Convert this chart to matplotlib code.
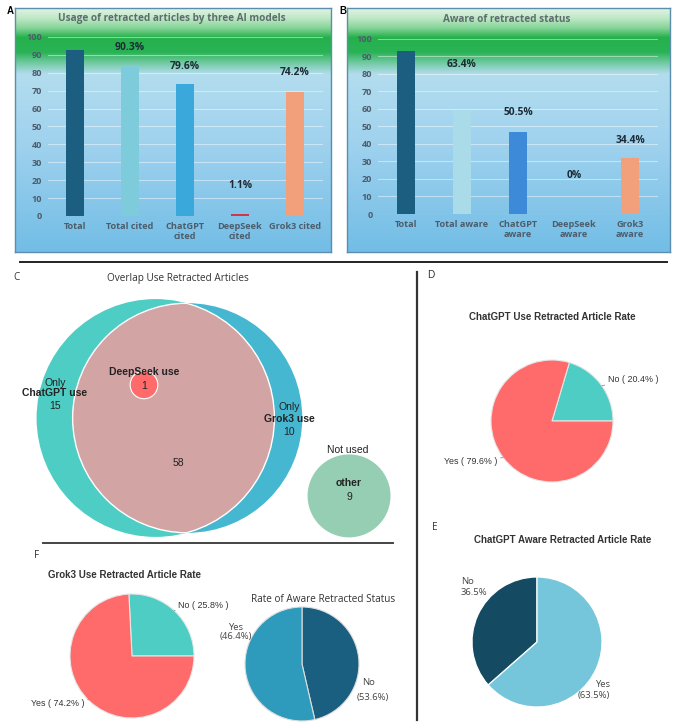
import numpy as np
import matplotlib
matplotlib.use('Agg')
import matplotlib.pyplot as plt
from matplotlib.patches import Circle
from matplotlib.lines import Line2D
from matplotlib.colors import to_rgb

# ---- data ----
a_categories = ['Total', 'Total cited', 'ChatGPT\ncited', 'DeepSeek\ncited', 'Grok3 cited']
a_counts = [93, 84, 74, 1, 69]
a_pct = ['', '90.3%', '79.6%', '1.1%', '74.2%']
a_title = 'Usage of retracted articles by three AI models'

b_categories = ['Total', 'Total aware', 'ChatGPT\naware', 'DeepSeek\naware', 'Grok3\naware']
b_counts = [93, 59, 47, 0, 32]
b_pct = ['', '63.4%', '50.5%', '0%', '34.4%']
b_title = 'Aware of retracted status'

only_chatgpt = 15
only_grok = 10
both_used = 58
deepseek_used = 1
not_used = 9

d_values = [20.4, 79.6]   # No, Yes
e_values = [36.5, 63.5]   # No, Yes
f_values = [25.8, 74.2]   # No, Yes
aware_values = [53.6, 46.4]   # No, Yes (as labelled)
aware_slices = [46.4, 53.6]   # dark / light wedge sizes as drawn in the source

W, H = 678, 727
fig = plt.figure(figsize=(W / 100, H / 100), dpi=100)
fig.patch.set_facecolor('white')

SEGOE = ['Open Sans', 'DejaVu Sans']
ARIAL = ['Liberation Sans', 'DejaVu Sans']


def fx(x):
    return x / W


def fy(y):
    return 1 - y / H


def px_axes(x0, y0, x1, y1, **kw):
    return fig.add_axes([x0 / W, 1 - y1 / H, (x1 - x0) / W, (y1 - y0) / H], **kw)


def ftext(x, y, s, **kw):
    return fig.text(fx(x), fy(y), s, **kw)


def gradient_box(x0, y0, x1, y1):
    stops = [(0.00, '#e0f4e2'), (0.04, '#bfe8c6'), (0.08, '#86d598'),
             (0.12, '#25b04c'), (0.18, '#2ab356'), (0.22, '#6cc89a'),
             (0.27, '#b3ddef'), (0.55, '#a0d2ee'), (1.00, '#72bde6')]
    t = np.linspace(0, 1, 300)
    pos = [s[0] for s in stops]
    cols = np.array([to_rgb(s[1]) for s in stops])
    img = np.stack([np.interp(t, pos, cols[:, k]) for k in range(3)], axis=1)
    bg = px_axes(x0, y0, x1, y1)
    bg.imshow(img[:, None, :], aspect='auto', extent=[0, 1, 0, 1])
    bg.set_xticks([])
    bg.set_yticks([])
    for sp in bg.spines.values():
        sp.set_color('#5b8eae')
        sp.set_linewidth(1.0)
    return bg


def bar_panel(box, plot, cats, counts, pct, label_y, colors, title, title_x):
    gradient_box(*box)
    ax = px_axes(*plot)
    ax.patch.set_alpha(0)
    x = np.arange(len(cats))
    ax.bar(x, counts, width=0.31, color=colors, zorder=3)
    ax.set_xlim(-0.5, len(cats) - 0.5)
    ax.set_ylim(0, 100)
    ax.set_yticks(np.arange(0, 101, 10))
    ax.set_xticks(x)
    ax.set_xticklabels(cats, fontsize=6.6, fontweight='bold', color='#4c5d6c',
                       family=SEGOE, linespacing=1.2)
    ax.set_yticklabels([str(v) for v in range(0, 101, 10)], fontsize=6.6,
                       fontweight='bold', color='#4c5d6c', family=SEGOE)
    ax.tick_params(length=0, pad=4)
    ax.grid(axis='y', color='white', alpha=0.45, lw=0.8, zorder=0)
    for sp in ax.spines.values():
        sp.set_visible(False)
    for xi, txt, ly in zip(x, pct, label_y):
        if txt:
            ax.text(xi, ly, txt, ha='center', va='center', fontsize=7.4,
                    fontweight='bold', color='#1d2b36', family=SEGOE, zorder=4)
    ftext(title_x, 19, title, ha='center', va='center', fontsize=7.2,
          fontweight='bold', color='#5d6d6d', family=SEGOE)
    return ax


# ---- panel A ----
bar_panel((15, 8, 331, 252), (47.5, 37, 322.5, 216), a_categories, a_counts, a_pct,
          [0, 94, 83.5, 17, 80],
          ['#1b5e7f', '#7ecbdc', '#3ba8dc', '#d2344a', '#f2a07b'],
          a_title, 172)
ftext(10, 11, 'A', ha='center', va='center', fontsize=7, fontweight='bold', family=ARIAL)

# ---- panel B ----
bar_panel((347, 8, 670, 252), (378, 38.5, 658, 214), b_categories, b_counts, b_pct,
          [0, 85, 58, 22, 42],
          ['#1b5e7f', '#a9dce8', '#3c8ad8', '#3c8ad8', '#f2a07b'],
          b_title, 507)
ftext(343, 11, 'B', ha='center', va='center', fontsize=7, fontweight='bold', family=ARIAL)

# ---- separators ----
fig.add_artist(Line2D([fx(20), fx(667)], [fy(262), fy(262)], color='#222222', lw=1.4))
fig.add_artist(Line2D([fx(417), fx(417)], [fy(272), fy(720)], color='#333333', lw=1.6))
fig.add_artist(Line2D([fx(43), fx(393)], [fy(543), fy(543)], color='#444444', lw=1.4))


# ---- panel C: area-proportional Venn ----
def lens_area(r1, r2, d):
    if d >= r1 + r2:
        return 0.0
    if d <= abs(r1 - r2):
        return np.pi * min(r1, r2) ** 2
    a1 = r1 ** 2 * np.arccos((d ** 2 + r1 ** 2 - r2 ** 2) / (2 * d * r1))
    a2 = r2 ** 2 * np.arccos((d ** 2 + r2 ** 2 - r1 ** 2) / (2 * d * r2))
    a3 = 0.5 * np.sqrt((-d + r1 + r2) * (d + r1 - r2) * (d - r1 + r2) * (d + r1 + r2))
    return a1 + a2 - a3


n_chatgpt = only_chatgpt + both_used + deepseek_used
n_grok = only_grok + both_used + deepseek_used
n_both = both_used + deepseek_used
r_c = np.sqrt(n_chatgpt / np.pi)
r_g = np.sqrt(n_grok / np.pi)
lo, hi = abs(r_c - r_g), r_c + r_g
for _ in range(60):
    mid = (lo + hi) / 2
    if lens_area(r_c, r_g, mid) > n_both:
        lo = mid
    else:
        hi = mid
d_cg = (lo + hi) / 2

scale = 24.5  # px per unit
cx0, cy0 = 155.5, 418
vx0, vy0, vx1, vy1 = 0, 285, 410, 545
axv = px_axes(vx0, vy0, vx1, vy1)
axv.set_xlim((vx0 - cx0) / scale, (vx1 - cx0) / scale)
axv.set_ylim((cy0 - vy1) / scale, (cy0 - vy0) / scale)
axv.axis('off')

c_chat = Circle((0, 0), r_c, facecolor='#4ecdc4', edgecolor='none', zorder=1)
c_grok = Circle((d_cg, 0), r_g, facecolor='#45b7d1', edgecolor='none', zorder=1)
axv.add_patch(c_grok)
axv.add_patch(c_chat)
overlap = Circle((d_cg, 0), r_g, facecolor='#d3a4a4', edgecolor='white', lw=1.0, zorder=2)
axv.add_patch(overlap)
overlap.set_clip_path(c_chat)
rim = Circle((0, 0), r_c, facecolor='none', edgecolor='white', lw=1.0, zorder=3)
axv.add_patch(rim)
rim.set_clip_path(c_grok)
axv.add_patch(Circle((-0.47, 1.35), np.sqrt(deepseek_used / np.pi), facecolor='#ff6b6b',
                     edgecolor='white', lw=0.8, zorder=4))
axv.add_patch(Circle((7.9, -3.18), np.sqrt(not_used / np.pi), facecolor='#96ceb4',
                     edgecolor='none', zorder=4))

ftext(16, 278, 'C', ha='center', va='center', fontsize=7.2, family=SEGOE, color='#333333')
ftext(178, 278, 'Overlap Use Retracted Articles', ha='center', va='center',
      fontsize=7.2, family=SEGOE, color='#333333')
vk = dict(ha='center', va='center', fontsize=7.5, family=ARIAL, color='#222222')
ftext(55, 383, 'Only', **vk)
ftext(55, 393, 'ChatGPT use', fontweight='bold', **vk)
ftext(55, 406, str(only_chatgpt), **vk)
ftext(144, 372, 'DeepSeek use', fontweight='bold', **vk)
ftext(144, 386, str(deepseek_used), **vk)
ftext(289, 407, 'Only', **vk)
ftext(289, 419, 'Grok3 use', fontweight='bold', **vk)
ftext(289, 432, str(only_grok), **vk)
ftext(178, 463, str(both_used), **vk)
ftext(348, 450, 'Not used', **vk)
ftext(349, 483, 'other', fontweight='bold', **vk)
ftext(349, 497, str(not_used), **vk)


# ---- pies ----
def pie_axes(cx, cy, r):
    ax = px_axes(cx - r, cy - r, cx + r, cy + r)
    return ax


def finish_pie(ax):
    ax.set_xlim(-1, 1)
    ax.set_ylim(-1, 1)
    ax.axis('off')


lab = dict(fontsize=6.4, family=ARIAL, color='#333333')
leader = dict(arrowstyle='-', color='#777777', lw=0.5, shrinkA=0, shrinkB=0)

# D
axd = pie_axes(552, 421, 61)
axd.pie(d_values, colors=['#4ecdc4', '#ff6b6b'], startangle=0, counterclock=True,
        radius=1, wedgeprops=dict(edgecolor='#e6e6e6', linewidth=0.8))
finish_pie(axd)
axd.annotate('No ( %.1f%% )' % d_values[0], xy=(0.82, 0.58), xytext=(0.91, 0.68),
             ha='left', va='center', arrowprops=leader, **lab)
axd.annotate('Yes ( %.1f%% )' % d_values[1], xy=(-0.80, -0.60), xytext=(-0.89, -0.67),
             ha='right', va='center', arrowprops=leader, **lab)
ftext(431, 275, 'D', ha='center', va='center', fontsize=7.2, family=ARIAL, color='#333333')
ftext(552, 317, 'ChatGPT Use Retracted Article Rate', ha='center', va='center',
      fontsize=7, fontweight='bold', family=ARIAL, color='#333333')

# E
axe = pie_axes(537, 642, 65)
axe.pie(e_values, colors=['#144a62', '#76c6db'], startangle=90, counterclock=True,
        radius=1, wedgeprops=dict(edgecolor='white', linewidth=0.9))
finish_pie(axe)
axe.text(-1.17, 0.85, 'No\n%.1f%%' % e_values[0], ha='left', va='center',
         linespacing=1.3, fontsize=6.8, family=SEGOE, color='#444444')
axe.text(1.12, -0.74, 'Yes\n(%.1f%%)' % e_values[1], ha='right', va='center',
         multialignment='right', linespacing=1.3, fontsize=6.8, family=SEGOE, color='#444444')
ftext(435, 527, 'E', ha='center', va='center', fontsize=7.2, family=SEGOE, color='#333333')
ftext(563, 540, 'ChatGPT Aware Retracted Article Rate', ha='center', va='center',
      fontsize=7, fontweight='bold', family=ARIAL, color='#333333')

# F: Grok3
axf = pie_axes(132, 656, 62)
axf.pie(f_values, colors=['#4ecdc4', '#ff6b6b'], startangle=0, counterclock=True,
        radius=1, wedgeprops=dict(edgecolor='#e6e6e6', linewidth=0.8))
finish_pie(axf)
axf.annotate('No ( %.1f%% )' % f_values[0], xy=(0.68, 0.73), xytext=(0.74, 0.81),
             ha='left', va='center', arrowprops=leader, **lab)
axf.annotate('Yes ( %.1f%% )' % f_values[1], xy=(-0.70, -0.70), xytext=(-0.76, -0.77),
             ha='right', va='center', arrowprops=leader, **lab)
ftext(37, 555, 'F', ha='center', va='center', fontsize=7.2, family=SEGOE, color='#333333')
ftext(48, 575, 'Grok3 Use Retracted Article Rate', ha='left', va='center',
      fontsize=7, fontweight='bold', family=ARIAL, color='#333333')

# F: rate of aware retracted status
axa = pie_axes(302, 664, 57)
axa.pie(aware_slices, colors=['#1a5f80', '#2e9bbd'], startangle=90, counterclock=False,
        radius=1, wedgeprops=dict(edgecolor='#dddddd', linewidth=0.8))
finish_pie(axa)
axa.text(-0.88, 0.56, 'Yes\n(%.1f%%)' % aware_values[1], ha='right', va='center',
         multialignment='center', linespacing=1.0, fontsize=6.8, family=SEGOE, color='#444444')
axa.text(1.05, -0.33, 'No', ha='left', va='center', fontsize=6.8, family=SEGOE, color='#444444')
axa.text(0.96, -0.58, '(%.1f%%)' % aware_values[0], ha='left', va='center',
         fontsize=6.8, family=SEGOE, color='#444444')
ftext(323, 599, 'Rate of Aware Retracted Status', ha='center', va='center',
      fontsize=7.2, family=SEGOE, color='#333333')

fig.savefig('out.png', dpi=100)
